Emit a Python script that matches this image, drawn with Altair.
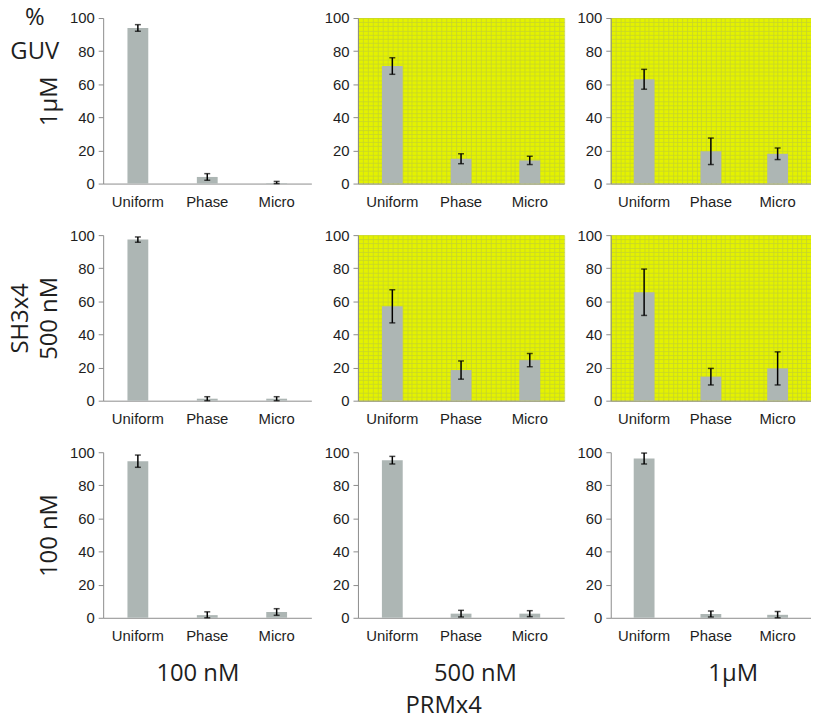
import altair as alt
import pandas as pd

categories = ["Uniform", "Phase", "Micro"]
row_titles = [["1µM"], ["SH3x4", "500 nM"], ["100 nM"]]
col_titles = ["100 nM", "500 nM", "1µM"]
corner_label = ["%", "GUV"]
bottom_title = "PRMx4"

# % GUV ; rows = SH3x4 1µM, 500 nM, 100 nM ; columns = PRMx4 100 nM, 500 nM, 1µM
means_sh3_1uM = [[94, 4, 0.3], [71, 15, 14], [63, 19.5, 18]]
errs_sh3_1uM = [[2, 2, 1], [5, 3, 2.5], [6, 8, 3.5]]
means_sh3_500nM = [[97.3, 1.2, 1.2], [57, 18.5, 24.5], [65.5, 14.5, 19.5]]
errs_sh3_500nM = [[1.6, 1.2, 1.2], [10, 5.5, 4], [14, 5, 10]]
means_sh3_100nM = [[94.6, 1.6, 3.5], [95.2, 2.5, 2.5], [96.2, 2.3, 1.8]]
errs_sh3_100nM = [[3.7, 2, 2], [2.3, 2, 1.8], [3.3, 1.8, 2]]
highlighted = [[False, True, True], [False, True, True], [False, False, False]]

all_means = [means_sh3_1uM, means_sh3_500nM, means_sh3_100nM]
all_errs = [errs_sh3_1uM, errs_sh3_500nM, errs_sh3_100nM]

BAR = "#adb6b4"
YELLOW = "#e4f200"
GRIDC = "#c6d42c"
AXISC = "#8c8c8c"
TXT = "#1e1e1e"
TITLE_FONT = "Open Sans"
LABEL_FONT = "Liberation Sans"

col_widths = [210, 208, 202]
row_height = 167
col_title_dx = [-10, 14, 22]


def panel(r, c):
    w = col_widths[c]
    df = pd.DataFrame({
        "cat": categories,
        "mean": all_means[r][c],
        "err": all_errs[r][c],
    })
    df["lo"] = (df["mean"] - df["err"]).clip(lower=0)
    df["hi"] = df["mean"] + df["err"]
    base = alt.Chart(df)
    yscale = alt.Scale(domain=[0, 100], nice=False)

    xaxis_kw = dict(labelAngle=0, ticks=False, domainColor=AXISC, labelPadding=11,
                    labelFontSize=15, labelFont=LABEL_FONT, labelColor=TXT)
    if r == 2:
        xaxis_kw.update(title=col_titles[c], titleFont=TITLE_FONT, titleFontSize=24,
                        titleFontWeight="normal", titleColor=TXT, titlePadding=18,
                        titleX=w / 2 + col_title_dx[c])
    else:
        xaxis_kw.update(title=None)
    xaxis = alt.Axis(**xaxis_kw)
    xscale = alt.Scale(paddingInner=0, paddingOuter=0)

    yaxis_kw = dict(values=[0, 20, 40, 60, 80, 100], tickSize=5, domainColor=AXISC,
                    tickColor=AXISC, labelFontSize=15, labelFont=LABEL_FONT,
                    labelColor=TXT, labelPadding=4, grid=False, labelOverlap=False)
    if c == 0:
        yaxis_kw.update(title=row_titles[r], titleFont=TITLE_FONT, titleFontSize=24,
                        titleFontWeight="normal", titleColor=TXT, titlePadding=8,
                        titleLineHeight=29)
    else:
        yaxis_kw.update(title=None)
    yaxis = alt.Axis(**yaxis_kw)

    def X():
        return alt.X("cat:N", sort=categories, scale=xscale, axis=xaxis)

    def Y(field):
        return alt.Y(field, type="quantitative", scale=yscale, axis=yaxis)

    bars = base.mark_bar(color=BAR, size=21).encode(x=X(), y=Y("mean"))
    rule = base.mark_rule(color="black", strokeWidth=1.5).encode(
        x=X(), y=Y("lo"), y2="hi:Q")
    cap_lo = base.mark_tick(color="black", size=6, thickness=1.5).encode(x=X(), y=Y("lo"))
    cap_hi = base.mark_tick(color="black", size=6, thickness=1.5).encode(x=X(), y=Y("hi"))

    layers = [bars, rule, cap_lo, cap_hi]
    if r == 0 and c == 0:
        corner = alt.Chart(alt.Data(values=[{}])).mark_text(
            text=corner_label, font=TITLE_FONT, fontSize=24, lineHeight=34,
            align="center", baseline="middle", color=TXT
        ).encode(x=alt.value(-69), y=alt.value(0))
        layers = layers + [corner]
    inner = alt.layer(*layers)

    if highlighted[r][c]:
        grid = base.mark_point(opacity=0).encode(
            x=alt.XDatum(0, type="quantitative",
                         scale=alt.Scale(domain=[0, 42], nice=False),
                         axis=alt.Axis(orient="top", grid=True, gridColor=GRIDC,
                                       gridWidth=0.8, values=list(range(0, 43)),
                                       labels=False, ticks=False, domain=False,
                                       title=None)),
            y=alt.Y("mean:Q", scale=yscale,
                    axis=alt.Axis(orient="right", grid=True, gridColor=GRIDC,
                                  gridWidth=0.8, values=[i * 2.5 for i in range(41)],
                                  labels=False, ticks=False, domain=False,
                                  title=None)))
        ch = alt.layer(grid, inner, view=alt.ViewBackground(fill=YELLOW, stroke=None)
                       ).resolve_scale(x="independent").resolve_axis(
                           x="independent", y="independent")
    else:
        ch = inner
    return ch.properties(width=w, height=row_height)


panels = [panel(r, c) for r in range(3) for c in range(3)]

chart = alt.concat(*panels, columns=3, spacing={"row": 19, "column": 12}).properties(
    padding={"left": 0, "top": -5, "right": 0, "bottom": 0},
    title=alt.TitleParams(bottom_title, orient="bottom", anchor="middle",
                          font=TITLE_FONT, fontSize=24, fontWeight="normal",
                          color=TXT, offset=9, dx=34),
).configure_view(stroke=None)

chart.save("out.html", embed_options={"renderer": "svg", "actions": False})
